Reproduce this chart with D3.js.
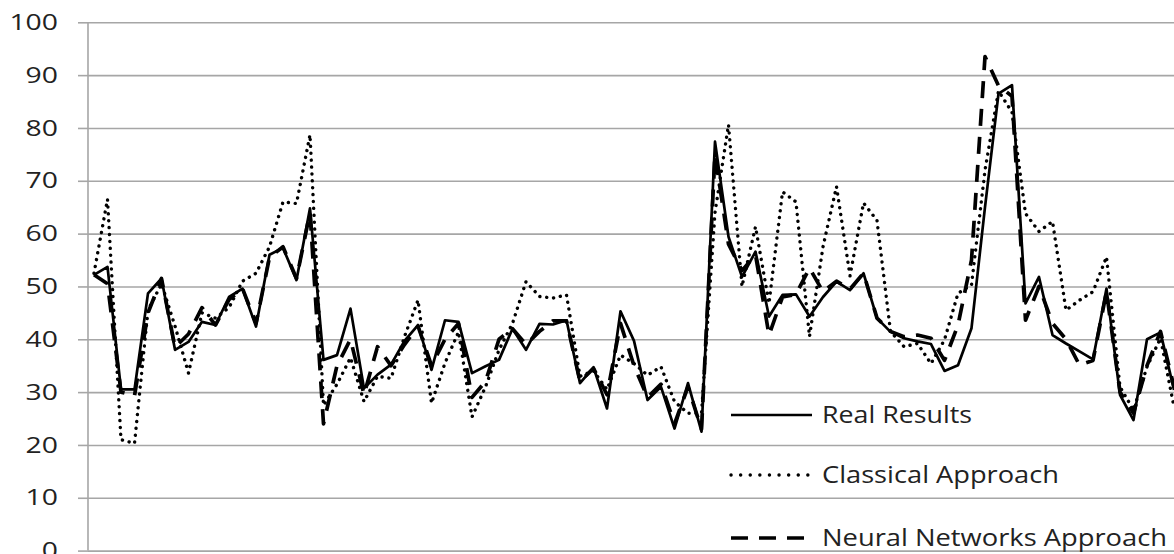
<!DOCTYPE html>
<html>
<head>
<meta charset="utf-8">
<script src="https://cdn.jsdelivr.net/npm/d3@7/dist/d3.min.js"></script>
<style>
  body { margin: 0; background: #fff; }
  svg { display: block; }
</style>
</head>
<body>
<div class="chart"></div>
<script>
var svgWidth = 1174;
var svgHeight = 554;

// one category per sample, 81 visible
var categories = d3.range(1, 82);

var realResults = [52.2, 53.7, 30.5, 30.5, 48.7, 51.5, 38.0, 39.5, 43.3, 42.7,
  48.0, 49.6, 42.4, 56.0, 57.3, 51.2, 64.8, 36.1, 37.0, 45.8,
  30.7, 33.3, 35.2, 39.7, 42.7, 34.2, 43.6, 43.3, 33.6, 34.9,
  36.1, 42.0, 38.0, 42.9, 42.8, 43.6, 31.7, 34.7, 26.9, 45.3,
  39.7, 28.5, 31.0, 23.1, 31.7, 22.5, 77.4, 59.4, 51.8, 56.6,
  44.3, 48.4, 48.5, 44.3, 48.0, 50.9, 49.3, 52.5, 44.0, 41.4,
  40.2, 39.6, 39.1, 34.0, 35.1, 42.1, 65.0, 86.5, 88.1, 46.8,
  51.8, 40.8, 39.2, 37.7, 36.2, 49.6, 29.5, 24.7, 40.0, 41.3,
  30.4];

var classicalApproach = [52.5, 66.5, 21.0, 20.3, 45.5, 50.5, 42.5, 33.6, 45.0, 44.0,
  46.0, 51.0, 52.5, 57.5, 66.0, 65.7, 78.7, 27.5, 31.5, 36.5,
  28.2, 33.0, 32.6, 40.5, 47.4, 27.9, 35.5, 41.4, 25.3, 31.0,
  38.0, 43.0, 50.9, 48.1, 47.8, 48.4, 33.0, 34.0, 30.5, 37.0,
  35.4, 33.2, 34.8, 28.2, 26.0, 26.0, 64.0, 80.6, 50.0, 61.3,
  46.8, 67.9, 66.0, 40.5, 57.5, 68.9, 52.0, 65.8, 62.5, 41.5,
  38.6, 39.2, 35.4, 39.9, 48.7, 50.3, 72.0, 87.0, 83.0, 63.8,
  60.4, 62.3, 45.5, 47.4, 49.0, 55.6, 31.0, 26.6, 34.8, 40.2,
  27.2];

var neuralNetworks = [52.2, 50.5, 30.0, 29.3, 45.0, 51.5, 38.5, 41.0, 46.0, 42.7,
  47.5, 49.6, 43.0, 55.5, 57.5, 51.5, 64.0, 24.0, 35.0, 40.0,
  29.5, 38.6, 35.0, 39.0, 42.5, 35.0, 40.0, 43.0, 29.0, 32.0,
  40.0, 42.0, 39.0, 41.5, 43.5, 43.5, 32.0, 34.5, 29.5, 43.0,
  35.0, 29.0, 31.5, 24.0, 31.0, 23.0, 75.0, 58.0, 53.0, 56.0,
  40.8, 48.0, 48.5, 53.5, 49.0, 51.0, 49.5, 52.5, 44.0, 41.5,
  40.5, 40.8, 40.2, 36.0, 42.7, 55.0, 93.5, 88.0, 86.0, 43.6,
  50.0, 43.0, 40.0, 35.1, 36.0, 49.0, 30.0, 26.0, 35.0, 41.5,
  31.0];

var yTicks = [0, 10, 20, 30, 40, 50, 60, 70, 80, 90, 100];
var seriesNames = ["Real Results", "Classical Approach", "Neural Networks Approach"];

var plotLeft = 88;
var plotRight = 1174;

var svg = d3.select(".chart")
  .append("svg")
  .attr("width", svgWidth)
  .attr("height", svgHeight);

var xScale = d3.scalePoint()
  .domain(categories)
  .range([94, 1174]);

var yScale = d3.scaleLinear()
  .domain([0, 100])
  .range([550.6, 22.3]);

// y axis with labels, grid lines drawn from every tick
var leftAxis = d3.axisLeft(yScale)
  .tickValues(yTicks)
  .tickSize(10)
  .tickPadding(20);

var axisGroup = svg.append("g")
  .attr("transform", `translate(${plotLeft},0)`)
  .call(leftAxis);

axisGroup.select(".domain").remove();
axisGroup.selectAll(".tick line")
  .attr("stroke", "#a6a6a6")
  .attr("stroke-width", 1.6);
axisGroup.selectAll(".tick")
  .append("line")
  .attr("x1", 0)
  .attr("x2", plotRight - plotLeft)
  .attr("stroke", "#a6a6a6")
  .attr("stroke-width", 1.6);
axisGroup.selectAll(".tick text")
  .attr("fill", "#222")
  .style("font-family", "'Open Sans'")
  .style("font-size", "22.5px")
  .attr("textLength", d => String(d).length * 16.2)
  .attr("lengthAdjust", "spacingAndGlyphs");

axisGroup.append("line")
  .attr("y1", yScale(100))
  .attr("y2", yScale(0))
  .attr("stroke", "#a6a6a6")
  .attr("stroke-width", 1.6);

var line = d3.line()
  .x((d, i) => xScale(categories[i]))
  .y(d => yScale(d));

var styles = [
  {width: 2.7, dash: null, cap: "butt"},
  {width: 3.4, dash: "0.1 6.8", cap: "round"},
  {width: 3.7, dash: "17 11", cap: "butt"}
];
var allSeries = [realResults, classicalApproach, neuralNetworks];

allSeries.forEach(function(values, k) {
  svg.append("path")
    .datum(values)
    .attr("d", line)
    .attr("fill", "none")
    .attr("stroke", "#000")
    .attr("stroke-width", styles[k].width)
    .attr("stroke-dasharray", styles[k].dash)
    .attr("stroke-linecap", styles[k].cap)
    .attr("stroke-linejoin", "round");
});

// legend inside the plot, bottom right
var legendY = [415, 475, 538];
var legendWidths = [150, 237, 345];
var legend = svg.append("g");

seriesNames.forEach(function(name, k) {
  legend.append("line")
    .attr("x1", 731)
    .attr("x2", 812)
    .attr("y1", legendY[k])
    .attr("y2", legendY[k])
    .attr("stroke", "#000")
    .attr("stroke-width", styles[k].width)
    .attr("stroke-dasharray", k === 1 ? "0.1 9.5" : styles[k].dash)
    .attr("stroke-linecap", styles[k].cap);

  legend.append("text")
    .attr("x", 822)
    .attr("y", legendY[k] + 7.5)
    .attr("fill", "#222")
    .style("font-family", "'Open Sans'")
    .style("font-size", "23px")
    .attr("textLength", legendWidths[k])
    .attr("lengthAdjust", "spacingAndGlyphs")
    .text(name);
});
</script>
</body>
</html>
